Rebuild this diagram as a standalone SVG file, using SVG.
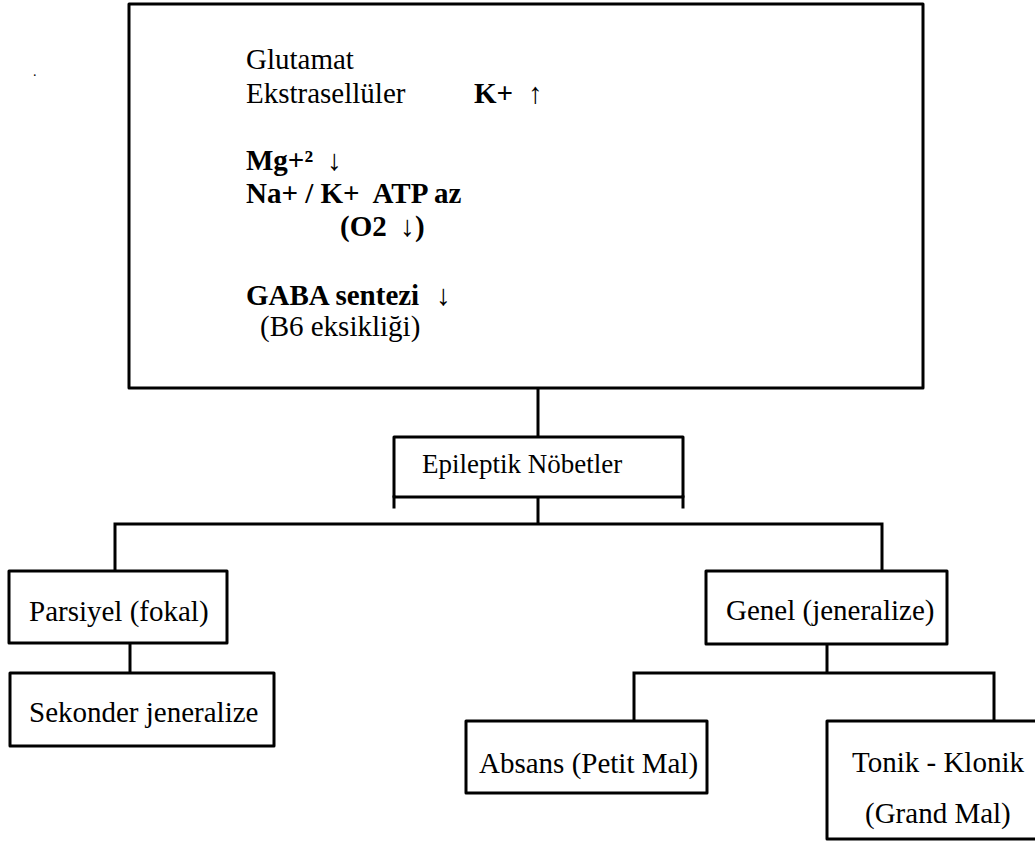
<svg xmlns="http://www.w3.org/2000/svg" width="1035" height="841" viewBox="0 0 1035 841">
<style>
.box{fill:#fff;stroke:#000;stroke-width:3;stroke-linejoin:round}
.ln{fill:none;stroke:#000;stroke-width:3;stroke-linecap:square}
svg text{font-family:"Liberation Serif","Times New Roman",serif;font-size:29px;fill:#000}
svg text.b{font-weight:bold}
</style>
<rect width="1035" height="841" fill="#fff"/>
<text x="33" y="76" style="font-size:14px">.</text>
<g id="connectors">
<path class="ln" d="M538 388V437"/>
<path class="ln" d="M538 497V524M115 524H882M115 524V571M882 524V571"/>
<path class="ln" d="M130 643V673"/>
<path class="ln" d="M827 644V673M634 673H994M634 673V721M994 673V721"/>
</g>
<g id="causes">
<rect class="box" x="129" y="4" width="794" height="384"/>
<text x="246" y="69">Glutamat</text>
<text x="246" y="103">Ekstrasellüler</text>
<text class="b" x="474" y="103">K+</text>
<text x="528" y="103">↑</text>
<text class="b" x="246" y="170">Mg+²</text>
<text x="327" y="170">↓</text>
<text class="b" x="246" y="203" xml:space="preserve">Na+ / K+  ATP az</text>
<text class="b" x="340" y="236">(O2</text>
<text x="400" y="236">↓</text>
<text class="b" x="415" y="236">)</text>
<text class="b" x="246" y="305">GABA sentezi</text>
<text x="436" y="305">↓</text>
<text x="260" y="336">(B6 eksikliği)</text>
</g>
<g id="epileptik">
<path class="box" d="M394 437H683V497H394Z"/>
<path class="ln" d="M394 497V507M683 497V507"/>
<text x="422" y="473" style="font-size:27px">Epileptik Nöbetler</text>
</g>
<g id="parsiyel">
<rect class="box" x="9" y="571" width="218" height="72"/>
<text x="29" y="621">Parsiyel (fokal)</text>
</g>
<g id="sekonder">
<rect class="box" x="10" y="673" width="264" height="73"/>
<text x="29" y="722">Sekonder jeneralize</text>
</g>
<g id="genel">
<rect class="box" x="706" y="571" width="241" height="73"/>
<text x="726" y="620">Genel (jeneralize)</text>
</g>
<g id="absans">
<rect class="box" x="466" y="721" width="241" height="72"/>
<text x="479" y="773">Absans (Petit Mal)</text>
</g>
<g id="tonik">
<rect class="box" x="827" y="721" width="215" height="118"/>
<text x="852" y="772">Tonik - Klonik</text>
<text x="865" y="823">(Grand Mal)</text>
</g>
</svg>
